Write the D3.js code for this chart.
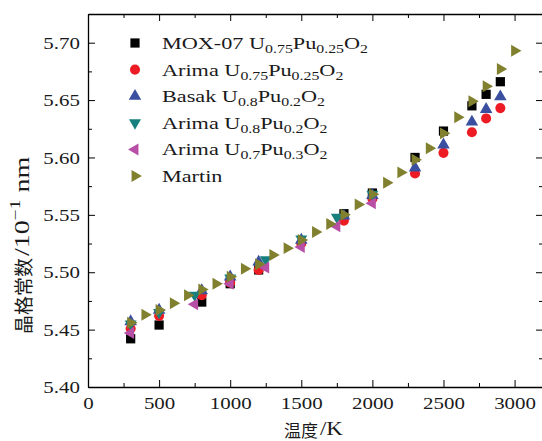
<!DOCTYPE html>
<html>
<head>
<meta charset="utf-8">
<script src="https://cdn.jsdelivr.net/npm/d3@7"></script>
<style>
  body { margin: 0; background: #fff; }
</style>
</head>
<body>
<div id="chart"></div>
<script>
// data (T in K, lattice constant in 0.1 nm)
var moxT = [300, 500, 800, 1000, 1200, 1800, 2000, 2300, 2500, 2700, 2800, 2900];
var moxA = [5.442, 5.454, 5.474, 5.490, 5.502, 5.551, 5.569, 5.600, 5.623, 5.645, 5.655, 5.666];

var arima25T = [300, 500, 800, 1000, 1200, 1500, 1800, 2000, 2300, 2500, 2700, 2800, 2900];
var arima25A = [5.451, 5.462, 5.480, 5.491, 5.502, 5.525, 5.545, 5.564, 5.586, 5.604, 5.622, 5.634, 5.643];

var basakT = [300, 500, 800, 1000, 1200, 1500, 1800, 2000, 2300, 2500, 2700, 2800, 2900];
var basakA = [5.457, 5.467, 5.484, 5.496, 5.509, 5.528, 5.549, 5.567, 5.591, 5.611, 5.631, 5.642, 5.653];

var arima20T = [300, 500, 750, 1000, 1250, 1500, 1750, 2000];
var arima20A = [5.455, 5.465, 5.480, 5.495, 5.511, 5.529, 5.548, 5.568];

var arima30T = [300, 750, 1000, 1250, 1500, 1750, 2000];
var arima30A = [5.447, 5.472, 5.490, 5.504, 5.522, 5.540, 5.560];

var martinT = [300, 400, 500, 600, 700, 800, 900, 1000, 1100, 1200, 1300, 1400, 1500, 1600,
               1700, 1800, 1900, 2000, 2100, 2200, 2300, 2400, 2500, 2600, 2700, 2800, 2900, 3000];
var martinA = [5.456, 5.463, 5.467, 5.473, 5.480, 5.485, 5.490, 5.496, 5.503, 5.507, 5.515, 5.521, 5.528, 5.535,
               5.542, 5.550, 5.559, 5.568, 5.578, 5.587, 5.598, 5.608, 5.621, 5.635, 5.649, 5.662, 5.677, 5.693];

// legend labels, [text, isSubscript]
var legendLabels = [
  [["MOX-07 U", 0], ["0.75", 1], ["Pu", 0], ["0.25", 1], ["O", 0], ["2", 1]],
  [["Arima U", 0], ["0.75", 1], ["Pu", 0], ["0.25", 1], ["O", 0], ["2", 1]],
  [["Basak U", 0], ["0.8", 1], ["Pu", 0], ["0.2", 1], ["O", 0], ["2", 1]],
  [["Arima U", 0], ["0.8", 1], ["Pu", 0], ["0.2", 1], ["O", 0], ["2", 1]],
  [["Arima U", 0], ["0.7", 1], ["Pu", 0], ["0.3", 1], ["O", 0], ["2", 1]],
  [["Martin", 0]]
];

var xMajor = [0, 500, 1000, 1500, 2000, 2500, 3000];
var xMinor = [250, 750, 1250, 1750, 2250, 2750];
var yMajor = [5.40, 5.45, 5.50, 5.55, 5.60, 5.65, 5.70];
var yMinor = [5.425, 5.475, 5.525, 5.575, 5.625, 5.675];

var svgWidth = 542;
var svgHeight = 441;
var margin = { top: 14, right: 0, bottom: 54, left: 88 };
var width = 455;
var height = svgHeight - margin.top - margin.bottom;

var SX = 1.27;  // the source figure is stretched sideways
var serif = "'Liberation Serif', 'DejaVu Serif', serif";
var cjk = "'Noto Sans CJK SC', sans-serif";

var series = [
  { T: moxT, A: moxA, type: d3.symbolSquare, size: 85, rot: 0, color: "#000000" },
  { T: arima25T, A: arima25A, type: d3.symbolCircle, size: 80, rot: 0, color: "#ed1c24" },
  { T: basakT, A: basakA, type: d3.symbolTriangle, size: 68, rot: 0, color: "#3a4fa0" },
  { T: arima20T, A: arima20A, type: d3.symbolTriangle, size: 62, rot: 180, color: "#17807e" },
  { T: arima30T, A: arima30A, type: d3.symbolTriangle, size: 62, rot: -90, color: "#b84fa6" },
  { T: martinT, A: martinA, type: d3.symbolTriangle, size: 62, rot: 90, color: "#80802f" }
];

var svg = d3.select("#chart")
  .append("svg")
  .attr("width", svgWidth)
  .attr("height", svgHeight);

var chartGroup = svg.append("g")
  .attr("transform", `translate(${margin.left}, ${margin.top})`);

var xScale = d3.scaleLinear().domain([0, 3200]).range([0, width]);
var yScale = d3.scaleLinear().domain([5.40, 5.725]).range([height, 0]);

// major + minor ticks, pointing inward, on all four sides
function addAxis(axisFn, scale, major, minor, transform, labels) {
  var g = chartGroup.append("g").attr("transform", transform);
  g.call(axisFn(scale).tickValues(major).tickSizeInner(-7).tickSizeOuter(0)
    .tickFormat(labels ? labels : ""));
  var m = chartGroup.append("g").attr("transform", transform);
  m.call(axisFn(scale).tickValues(minor).tickSizeInner(-4).tickSizeOuter(0).tickFormat(""));
  m.select(".domain").remove();
  g.select(".domain").attr("stroke-width", 1.3);
  chartGroup.selectAll(".tick line").attr("stroke", "#000");
  return g;
}

var xBottom = addAxis(d3.axisBottom, xScale, xMajor, xMinor, `translate(0, ${height})`, d3.format("d"));
addAxis(d3.axisTop, xScale, xMajor, xMinor, "translate(0, 0)", null);
var yLeft = addAxis(d3.axisLeft, yScale, yMajor, yMinor, "translate(0, 0)", d3.format(".2f"));
addAxis(d3.axisRight, yScale, yMajor, yMinor, `translate(${width}, 0)`, null);

xBottom.selectAll("text")
  .attr("y", 22)
  .attr("dy", 0)
  .attr("transform", `scale(${SX}, 1)`)
  .style("font-family", serif)
  .style("font-size", "16.5px")
  .style("fill", "#1a1a1a");

yLeft.selectAll("text")
  .attr("x", -8 / SX)
  .attr("dy", "0.34em")
  .attr("transform", `scale(${SX}, 1)`)
  .style("font-family", serif)
  .style("font-size", "16.5px")
  .style("fill", "#1a1a1a");

// points
series.forEach(function(s) {
  var pts = s.T.map(function(t, i) { return { t: t, a: s.A[i] }; });
  chartGroup.append("g").selectAll("path")
    .data(pts)
    .enter()
    .append("path")
    .attr("d", d3.symbol().type(s.type).size(s.size))
    .attr("transform", d => `translate(${xScale(d.t)}, ${yScale(d.a)}) rotate(${s.rot})`)
    .attr("fill", s.color);
});

// legend
var legend = svg.append("g");
legendLabels.forEach(function(parts, i) {
  var s = series[i];
  var cy = 43 + i * 26.6;
  legend.append("path")
    .attr("d", d3.symbol().type(s.type).size(s.size)())
    .attr("transform", `translate(135, ${cy}) rotate(${s.rot})`)
    .attr("fill", s.color);
  var txt = legend.append("text")
    .attr("transform", `translate(162, ${cy + 6}) scale(${SX}, 1)`)
    .style("font-family", serif)
    .style("font-size", "17.5px")
    .style("fill", "#1a1a1a");
  var shift = 0;
  parts.forEach(function(p) {
    var want = p[1] ? 4 : 0;
    txt.append("tspan")
      .attr("dy", want - shift)
      .style("font-size", p[1] ? "12.5px" : "17.5px")
      .text(p[0]);
    shift = want;
  });
});

// axis labels
svg.append("text")
  .attr("x", 318)
  .attr("y", 429)
  .attr("dominant-baseline", "central")
  .attr("text-anchor", "end")
  .style("font-family", cjk)
  .style("font-size", "17px")
  .style("fill", "#1a1a1a")
  .text("温度");
svg.append("text")
  .attr("transform", `translate(320, 429) scale(${SX}, 1)`)
  .attr("dominant-baseline", "central")
  .style("font-family", serif)
  .style("font-size", "18px")
  .style("fill", "#1a1a1a")
  .text("/K");

svg.append("text")
  .attr("transform", "translate(22, 334) rotate(-90)")
  .attr("dominant-baseline", "central")
  .style("font-family", cjk)
  .style("font-size", "19px")
  .style("fill", "#1a1a1a")
  .text("晶格常数");

var yl = svg.append("text")
  .attr("transform", "translate(22, 256) rotate(-90) scale(1.4, 1)")
  .attr("dominant-baseline", "central")
  .style("font-family", serif)
  .style("font-size", "20px")
  .style("fill", "#1a1a1a");
yl.append("tspan").text("/10");
yl.append("tspan").attr("dy", -7).style("font-size", "14px").text("−1");
yl.append("tspan").attr("dy", 7).text(" nm");
</script>
</body>
</html>
